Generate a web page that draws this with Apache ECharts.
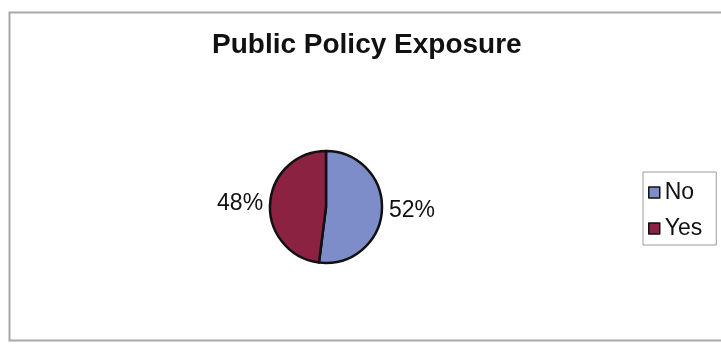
<!DOCTYPE html>
<html>
<head>
<meta charset="utf-8">
<title>Public Policy Exposure</title>
<script src="https://cdn.jsdelivr.net/npm/echarts@6/dist/echarts.min.js"></script>
<style>
  html, body { margin: 0; padding: 0; background: #fff; }
  #chart { width: 721px; height: 349px; }
</style>
</head>
<body>
<div id="chart"></div>
<script>
// exposure answers
const categories = ['No', 'Yes']
const shares = [52, 48]
const sliceColors = ['#7d8dca', '#8c2242']

const chart = echarts.init(document.getElementById('chart'))

const seriesData = categories.map((name, i) => {
  return {
    name: name,
    value: shares[i],
    itemStyle: { color: sliceColors[i] }
  }
})

const option = {
  backgroundColor: '#fff',
  textStyle: { fontFamily: 'Liberation Sans, Arial, sans-serif' },
  // 外框
  graphic: [
    {
      type: 'rect',
      shape: { x: 9.5, y: 12.5, width: 720, height: 328 },
      style: { fill: 'none', stroke: '#a8a8a8', lineWidth: 2 },
      silent: true
    }
  ],
  title: {
    text: 'Public Policy Exposure',
    left: 212,
    top: 31,
    padding: 0,
    textStyle: {
      fontFamily: 'Liberation Sans, Arial, sans-serif',
      fontSize: 28,
      fontWeight: 'bold',
      color: '#111'
    }
  },
  legend: {
    orient: 'vertical',
    left: 643,
    top: 172,
    padding: [9, 14, 5, 5],
    itemGap: 13,
    itemWidth: 11,
    itemHeight: 11,
    itemTextGap: 14,
    icon: 'rect',
    borderColor: '#9a9a9a',
    borderWidth: 1,
    data: categories,
    itemStyle: { borderColor: '#111', borderWidth: 1.5 },
    textStyle: {
      fontFamily: 'Liberation Sans, Arial, sans-serif',
      fontSize: 23,
      color: '#111'
    }
  },
  series: [
    {
      type: 'pie',
      center: [326, 207],
      radius: 56,
      startAngle: 90,
      clockwise: true,
      percentPrecision: 0,
      animation: false,
      itemStyle: { borderColor: '#111', borderWidth: 2.5 },
      label: {
        show: true,
        position: 'outside',
        formatter: '{d}%',
        fontFamily: 'Liberation Sans, Arial, sans-serif',
        fontSize: 23,
        color: '#111'
      },
      labelLine: { show: false, length: 2, length2: 0 },
      emphasis: { disabled: true },
      data: seriesData
    }
  ]
}

chart.setOption(option)
</script>
</body>
</html>
